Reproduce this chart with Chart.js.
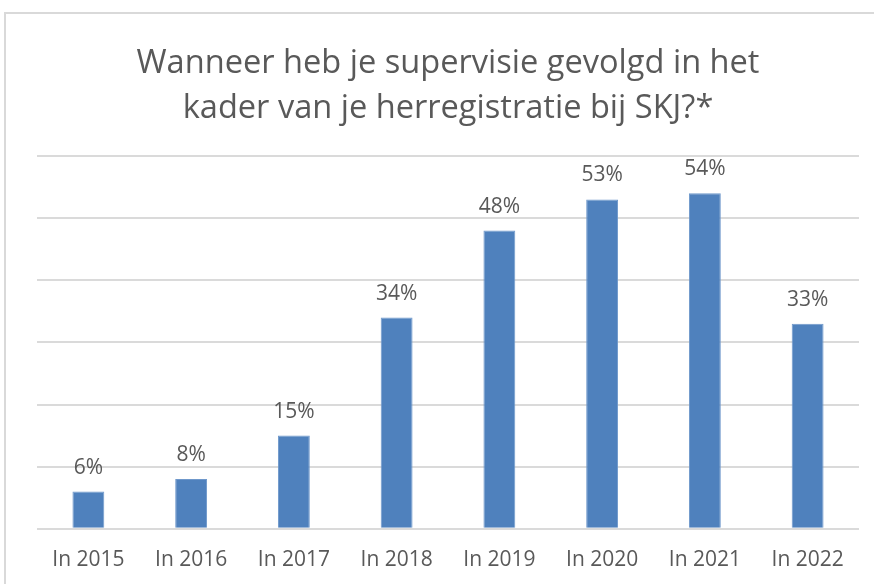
<!DOCTYPE html>
<html>
<head>
<meta charset="utf-8">
<script src="https://cdn.jsdelivr.net/npm/chart.js@4"></script>
<style>
  html, body { margin: 0; padding: 0; background: #fff; }
  #frame {
    position: absolute; left: 4px; top: 12px; width: 880px; height: 600px;
    border-top: 2px solid #d9d9d9; border-left: 2px solid #d9d9d9;
  }
  #wrap { position: absolute; left: 0; top: 0; width: 874px; height: 584px; }
</style>
</head>
<body>
<div id="frame"></div>
<div id="wrap"><canvas id="chart"></canvas></div>
<script>
var categories = ['In 2015', 'In 2016', 'In 2017', 'In 2018', 'In 2019', 'In 2020', 'In 2021', 'In 2022'];
var percentages = [6, 8, 15, 34, 48, 53, 54, 33];
var titleLines = ['Wanneer heb je supervisie gevolgd in het', 'kader van je herregistratie bij SKJ?*'];

// draws the percentage above each bar
var valueLabels = {
  id: 'valueLabels',
  afterDatasetsDraw: function(chart) {
    var ctx = chart.ctx;
    var meta = chart.getDatasetMeta(0);
    ctx.save();
    ctx.font = '21px "Open Sans"';
    ctx.fillStyle = '#595959';
    ctx.textAlign = 'center';
    ctx.textBaseline = 'alphabetic';
    meta.data.forEach(function(bar, i) {
      ctx.fillText(percentages[i] + '%', bar.x, bar.y - 18);
    });
    ctx.restore();
  }
};

var ctx = document.getElementById('chart').getContext('2d');
var chart = new Chart(ctx, {
  type: 'bar',
  data: {
    labels: categories,
    datasets: [{
      data: percentages,
      backgroundColor: '#4f81bd',
      borderColor: '#6f98cb',
      borderWidth: 1,
      barPercentage: 0.31,
      categoryPercentage: 1
    }]
  },
  options: {
    responsive: true,
    maintainAspectRatio: false,
    animation: false,
    layout: { padding: { left: 37, right: 15, top: 15, bottom: 0 } },
    plugins: {
      legend: { display: false },
      tooltip: { enabled: false },
      title: {
        display: true,
        text: titleLines,
        color: '#595959',
        font: { family: 'Open Sans', size: 32.6, weight: 'normal', lineHeight: 1.38 },
        padding: { top: 26, bottom: 25 }
      }
    },
    scales: {
      x: {
        grid: { display: false },
        border: { display: false },
        ticks: {
          color: '#595959',
          font: { family: 'Open Sans', size: 21 },
          padding: 11,
          maxRotation: 0
        }
      },
      y: {
        min: 0,
        max: 60,
        ticks: { display: false, stepSize: 10 },
        grid: { color: '#dadada', lineWidth: 2, drawTicks: false },
        border: { display: false }
      }
    }
  },
  plugins: [valueLabels]
});
</script>
</body>
</html>
